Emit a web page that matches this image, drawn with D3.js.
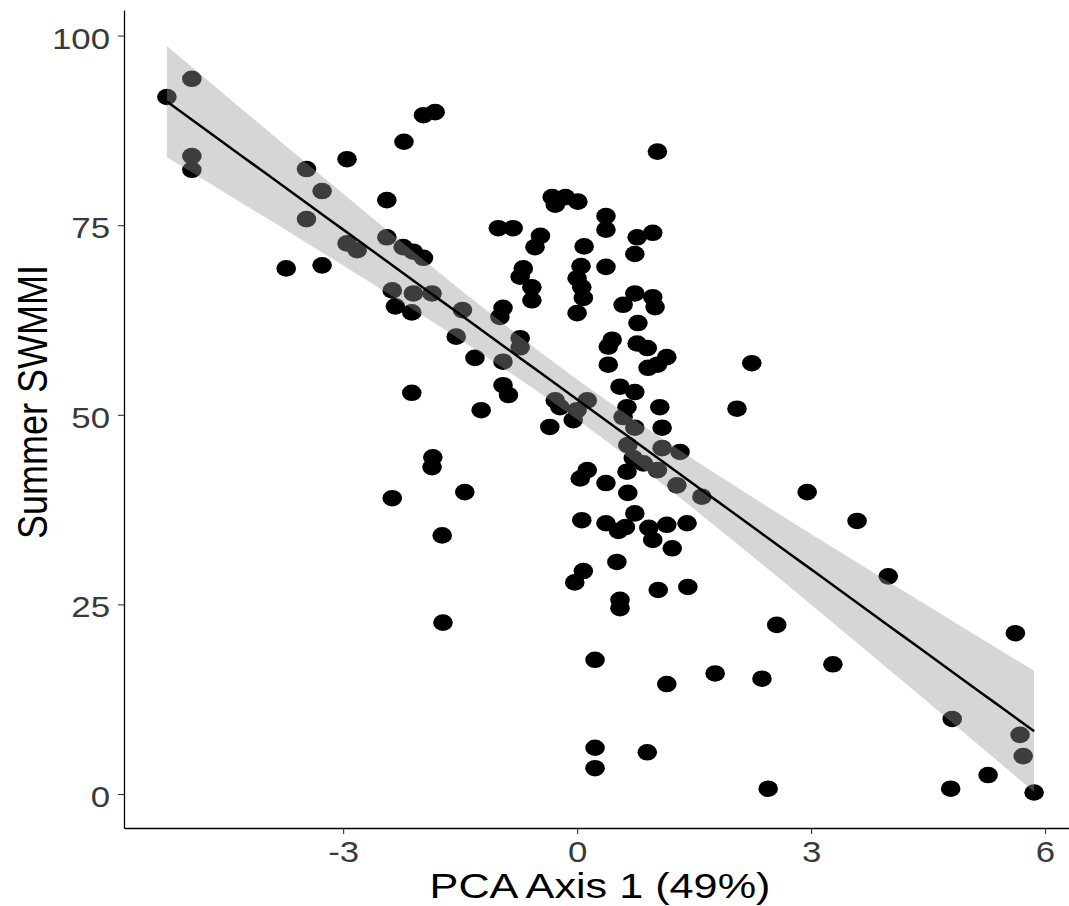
<!DOCTYPE html>
<html>
<head>
<meta charset="utf-8">
<script src="https://cdn.jsdelivr.net/npm/d3@7"></script>
<style>
body { margin: 0; background: #fff; }
text { font-family: "Liberation Sans", Arial, sans-serif; }
</style>
</head>
<body>
<script>
// PCA axis 1 score of each site and its summer SWMMI value
var pcaAxis1 = [
	-5.26, -4.94, -4.94, -4.94, -2.95, -3.47, -3.27, -3.47, -2.95, -2.82,
	-3.73, -3.27, -1.97, -1.82, -2.22, -2.44, -2.44, -2.23, -2.10, -1.97,
	-2.37, -2.10, -1.86, -2.33, -2.12, -1.47, -1.55, -1.31, -2.12, -1.23,
	-1.85, -1.86, -2.37, -1.44, -1.73, -1.72,
	1.03, -0.32, -0.28, -0.15, 0.01, -1.01, -0.82, -0.47, -0.54, 0.37,
	0.37, 0.09, 0.77, 0.97, 0.74, 0.37, 0.05, 0.00, -0.69, -0.73,
	-0.58, -0.58, 0.06, 0.08, 0.74, 0.97, -0.95, -0.99, 0.00, 0.59,
	1.00, 0.78, -0.73, -0.73, -0.95, 0.45, 0.40, 0.77, 0.90, 0.40,
	0.91, 1.03, 1.15, -0.95, -0.88, -0.28, -0.22, 0.13, 0.00, -0.05,
	-0.35, 0.55, 0.74, 0.64, 0.59, 0.74, 1.06, 1.09, 0.65, 1.09,
	1.32, 0.72, 0.85, 1.03, 0.64, 0.13, 0.04, 0.37, 0.65, 1.28,
	1.60, 0.06, 0.37, 0.62, 0.53, 0.74, 0.92, 0.97, 1.15, 1.41,
	1.22, 0.51, 0.08, -0.03, 1.04, 1.42, 0.55, 0.55, 0.23, 1.15,
	1.77, 0.23, 0.23, 0.90,
	2.24, 2.05, 2.95, 3.59, 3.99, 2.56, 2.37, 3.28, 5.62, 4.81,
	5.68, 5.72, 5.27, 2.45, 4.79, 5.86
];
var summerSwmmi = [
	91.9, 94.3, 84.1, 82.3, 83.7, 82.4, 79.5, 75.8, 72.6, 71.7,
	69.3, 69.7, 89.5, 89.9, 86.0, 78.3, 73.4, 72.1, 71.5, 70.7,
	66.4, 66.0, 66.0, 64.3, 63.5, 63.8, 60.3, 57.5, 52.9, 50.6,
	44.4, 43.1, 39.0, 39.8, 34.1, 22.6,
	84.7, 78.7, 77.7, 78.7, 78.1, 74.6, 74.6, 73.6, 72.1, 76.2,
	74.4, 72.2, 73.4, 74.0, 71.2, 69.5, 69.6, 68.0, 69.3, 68.2,
	66.8, 65.1, 66.8, 65.4, 66.0, 65.5, 64.1, 62.9, 63.4, 64.5,
	64.2, 62.1, 60.1, 58.9, 57.0, 59.9, 59.0, 59.4, 58.8, 56.6,
	56.2, 56.6, 57.6, 53.9, 52.6, 51.9, 51.0, 51.9, 50.6, 49.3,
	48.4, 53.7, 53.0, 51.0, 49.7, 48.3, 51.0, 48.3, 46.0, 45.6,
	45.1, 44.3, 43.6, 42.7, 42.5, 42.7, 41.6, 41.0, 39.7, 40.7,
	39.2, 36.1, 35.7, 35.2, 34.7, 37.0, 35.1, 33.5, 35.5, 35.7,
	32.4, 30.6, 29.4, 27.9, 26.9, 27.3, 25.6, 24.5, 17.7, 14.5,
	15.9, 6.1, 3.4, 5.5,
	56.8, 50.8, 39.8, 36.0, 28.7, 22.3, 15.2, 17.1, 21.2, 9.9,
	7.8, 5.0, 2.5, 0.7, 0.7, 0.2
];
var xTicks = [-3, 0, 3, 6];
var yTicks = [0, 25, 50, 75, 100];
var xTitle = "PCA Axis 1 (49%)";
var yTitle = "Summer SWMMI";

var width = 1069,
	height = 906;
var stretch = 1.2; // the picture is a little wider than tall

var svg = d3.select("body")
	.append("svg")
	.attr("width", width)
	.attr("height", height);

var xScale = d3.scaleLinear().domain([-5.81, 6.41]).range([124, 1077]);
var yScale = d3.scaleLinear().domain([-4.48, 103.37]).range([828, 10]);

var points = pcaAxis1.map((x, i) => ({x: x, y: summerSwmmi[i]}));

// linear fit with 95% confidence band, like geom_smooth(method = "lm")
var n = points.length;
var mx = d3.mean(points, d => d.x),
	my = d3.mean(points, d => d.y);
var sxx = d3.sum(points, d => (d.x - mx) * (d.x - mx));
var sxy = d3.sum(points, d => (d.x - mx) * (d.y - my));
var slope = sxy / sxx,
	intercept = my - slope * mx;
var sse = d3.sum(points, d => Math.pow(d.y - (intercept + slope * d.x), 2));
var s = Math.sqrt(sse / (n - 2));
var tq = 1.976;
var xMin = d3.min(pcaAxis1),
	xMax = d3.max(pcaAxis1);
var fit = d3.range(80).map(i => {
	var x = xMin + i * (xMax - xMin) / 79;
	var yhat = intercept + slope * x;
	var se = s * Math.sqrt(1 / n + (x - mx) * (x - mx) / sxx);
	return {x: x, y: yhat, lo: yhat - tq * se, hi: yhat + tq * se};
});

svg.append('g')
	.selectAll('ellipse')
	.data(points)
	.enter()
	.append('ellipse')
	.attr('cx', d => xScale(d.x))
	.attr('cy', d => yScale(d.y))
	.attr('rx', 9.8)
	.attr('ry', 8.3)
	.attr('fill', '#000');

svg.append('path')
	.datum(fit)
	.attr('fill', '#999999')
	.attr('fill-opacity', 0.4)
	.attr('d', d3.area().x(d => xScale(d.x)).y0(d => yScale(d.lo)).y1(d => yScale(d.hi)));

svg.append('path')
	.datum(fit)
	.attr('fill', 'none')
	.attr('stroke', '#000')
	.attr('stroke-width', 2.5)
	.attr('d', d3.line().x(d => xScale(d.x)).y(d => yScale(d.y)));

// axes
var yAxis = d3.axisLeft(yScale).tickValues(yTicks).tickSize(6).tickSizeOuter(0).tickFormat(d => String(d));
var xAxis = d3.axisBottom(xScale).tickValues(xTicks).tickSize(6).tickSizeOuter(0).tickFormat(d => String(d));

var gy = svg.append('g').attr('transform', 'translate(124,0)').call(yAxis);
var gx = svg.append('g').attr('transform', 'translate(0,828)').call(xAxis);

[gx, gy].forEach(g => {
	g.select('.domain').attr('stroke', '#000').attr('stroke-width', 1.3);
	g.selectAll('.tick line').attr('stroke', '#333').attr('stroke-width', 1.1);
	g.selectAll('.tick text')
		.attr('fill', '#3a3a3a')
		.attr('font-size', 29)
		.attr('font-family', '"Liberation Sans", Arial, sans-serif');
});
gy.selectAll('.tick text')
	.attr('x', -14 / stretch)
	.attr('dy', '0.43em')
	.attr('transform', `scale(${stretch},1)`);
gx.selectAll('.tick text')
	.attr('y', 34)
	.attr('dy', 0)
	.attr('transform', `scale(${stretch},1)`);

svg.append('text')
	.attr('transform', `translate(600,898) scale(${stretch},1)`)
	.attr('text-anchor', 'middle')
	.attr('font-size', 36)
	.attr('fill', '#000')
	.text(xTitle);

svg.append('text')
	.attr('transform', `translate(47,402) scale(${stretch},1) rotate(-90)`)
	.attr('text-anchor', 'middle')
	.attr('font-size', 36)
	.attr('fill', '#000')
	.text(yTitle);
</script>
</body>
</html>
